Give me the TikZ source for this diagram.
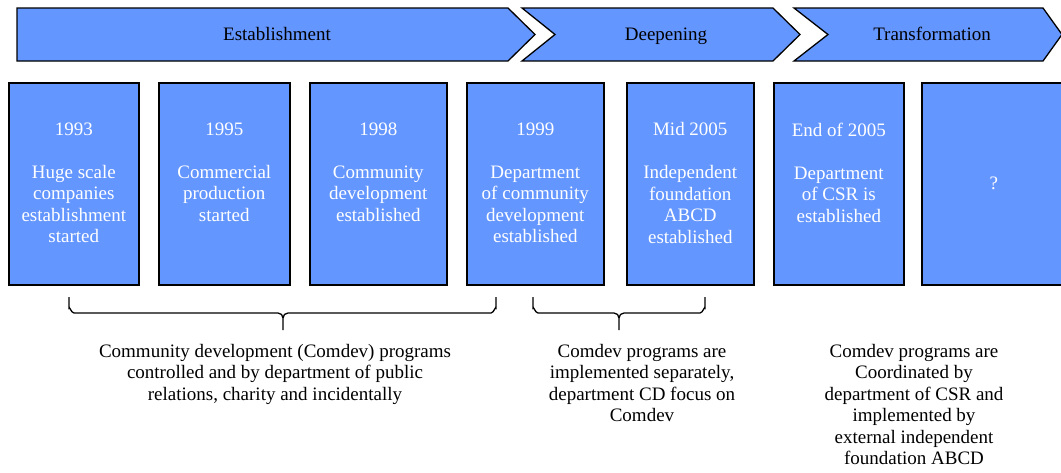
\documentclass[tikz,border=0pt]{standalone}
\usepackage{fontspec}
\setmainfont{Liberation Serif}
\definecolor{stageblue}{RGB}{100,150,255}

\begin{document}
\begin{tikzpicture}[
        x=1pt, y=-1pt,
        font=\fontsize{19}{21.5}\selectfont,
        phase/.style={draw, line width=1.3pt, fill=stageblue, line join=miter},
        phaselabel/.style={anchor=base, inner sep=0pt},
        event/.style={draw, line width=1.6pt, fill=stageblue, minimum height=202pt, anchor=north west, inner sep=0pt},
        eventtext/.style={anchor=north, align=center, text=white, inner sep=0pt, yshift=-40.5pt},
        bracket/.style={draw, line width=1.3pt},
        notetext/.style={anchor=north, align=center, inner sep=0pt}
    ]

    \useasboundingbox (0,0) rectangle (1061,472);
    \clip (0,0) rectangle (1061,472);

    % --- Phases (Top Row) ---
    \draw[phase] (17,8) -- (508,8) -- (535,34.5) -- (508,61) -- (17,61) -- cycle;
    \node[phaselabel] (establishment) at (277,40.5) {Establishment};

    \draw[phase] (522,8) -- (773,8) -- (800,34.5) -- (773,61) -- (522,61) -- (555,34.5) -- cycle;
    \node[phaselabel] (deepening) at (666,40.5) {Deepening};

    \draw[phase] (794,8) -- (1043,8) -- (1062,34.5) -- (1043,61) -- (794,61) -- (828,34.5) -- cycle;
    \node[phaselabel] (transformation) at (932,40.5) {Transformation};

    % --- Events (Middle Row) ---
    \node[event, minimum width=130pt] (b1) at (8,82) {};
    \node[eventtext] (t1) at (b1.north) {1993\\[21.5pt]Huge scale\\companies\\establishment\\started};

    \node[event, minimum width=131pt] (b2) at (158,82) {};
    \node[eventtext] (t2) at (b2.north) {1995\\[21.5pt]Commercial\\production\\started};

    \node[event, minimum width=137pt] (b3) at (309,82) {};
    \node[eventtext] (t3) at (b3.north) {1998\\[21.5pt]Community\\development\\established};

    \node[event, minimum width=137pt] (b4) at (466,82) {};
    \node[eventtext] (t4) at (b4.north) {1999\\[21.5pt]Department\\of community\\development\\established};

    \node[event, minimum width=127pt] (b5) at (626,82) {};
    \node[eventtext] (t5) at (b5.north) {Mid 2005\\[21.5pt]Independent\\foundation\\ABCD\\established};

    \node[event, minimum width=130pt] (b6) at (773,82) {};
    \node[eventtext] (t6) at (b6.north) {End of 2005\\[21.5pt]Department\\of CSR is\\established};

    \node[event, minimum width=144pt] (b7) at (921,82) {};
    \node[text=white, inner sep=0pt] (t7) at (b7.center) {?};

    % --- Brackets ---
    \draw[bracket] (69,297) -- (69,308) to[out=90,in=180] (74,313) -- (278,313) to[out=0,in=90] (283,318) -- (283,330);
    \draw[bracket] (283,318) to[out=90,in=180] (288,313) -- (491,313) to[out=0,in=90] (496,308) -- (496,297);

    \draw[bracket] (533,297) -- (533,308) to[out=90,in=180] (538,313) -- (614,313) to[out=0,in=90] (619,318) -- (619,330);
    \draw[bracket] (619,318) to[out=90,in=180] (624,313) -- (700,313) to[out=0,in=90] (705,308) -- (705,297);

    % --- Notes (Bottom Row) ---
    \node[notetext] (n1) at (275,344) {Community development (Comdev) programs\\controlled and by department of public\\relations, charity and incidentally};
    \node[notetext] (n2) at (642,344) {Comdev programs are\\implemented separately,\\department CD focus on\\Comdev};
    \node[notetext] (n3) at (914,344) {Comdev programs are\\Coordinated by\\department of CSR and\\implemented by\\external independent\\foundation ABCD};

\end{tikzpicture}
\end{document}
